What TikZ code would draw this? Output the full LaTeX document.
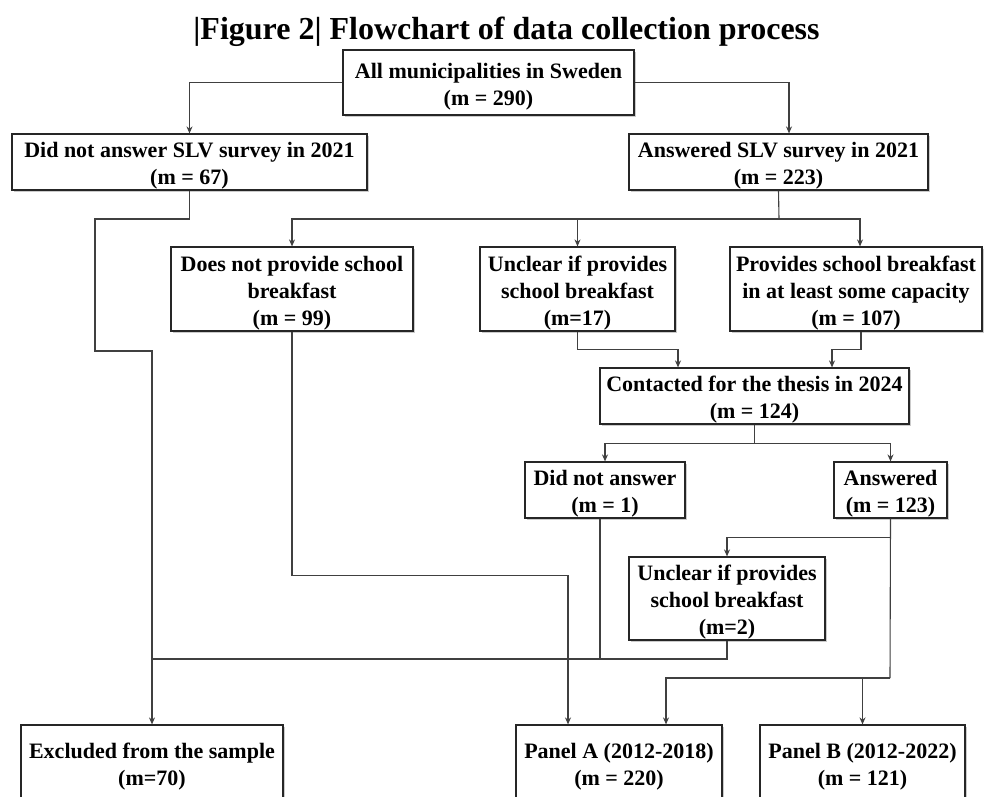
\documentclass[tikz,border=0pt]{standalone}
\usepackage{fontspec}
\setmainfont{Liberation Serif}
\usetikzlibrary{arrows.meta,shadows}
\newcommand{\tstrut}{\rule{0pt}{23pt}}
\tikzset{
  box/.style={draw=black!85, line width=1.2pt, fill=white, align=center, inner sep=0pt,
    font=\fontsize{22}{27}\selectfont\bfseries,
    drop shadow={shadow xshift=2pt, shadow yshift=-2pt, fill=black!45, opacity=0.45}},
  conn/.style={draw=black!75, line width=1.1pt},
  arr/.style={conn, -{Stealth[length=7pt,width=6pt]}}
}
\begin{document}
\begin{tikzpicture}[x=1pt,y=-1pt]
\clip (0,0) rectangle (984,796);
\fill[white] (0,0) rectangle (984,796);
\node[anchor=base, font=\fontsize{32}{38}\selectfont\bfseries] (title) at (506.5,39) {|Figure 2| Flowchart of data collection process};
\node[box, minimum width=291pt, minimum height=65pt] (b1) at (488.5,82.5) {\tstrut All municipalities in Sweden\\(m = 290)};
\node[box, minimum width=355pt, minimum height=56pt] (b2) at (189.5,162) {\tstrut Did not answer SLV survey in 2021\\(m = 67)};
\node[box, minimum width=299pt, minimum height=56pt] (b3) at (778.5,162) {\tstrut Answered SLV survey in 2021\\(m = 223)};
\node[box, minimum width=242pt, minimum height=84pt] (b4) at (292,289) {\tstrut Does not provide school\\breakfast\\(m = 99)};
\node[box, minimum width=195pt, minimum height=84pt] (b5) at (577.5,289) {\tstrut Unclear if provides\\school breakfast\\(m=17)};
\node[box, minimum width=252pt, minimum height=84pt] (b6) at (856,289) {\tstrut Provides school breakfast\\in at least some capacity\\(m = 107)};
\node[box, minimum width=309pt, minimum height=56pt] (b7) at (754.5,396) {\tstrut Contacted for the thesis in 2024\\(m = 124)};
\node[box, minimum width=160pt, minimum height=56pt] (b8) at (605,490) {\tstrut Did not answer\\(m = 1)};
\node[box, minimum width=113pt, minimum height=56pt] (b9) at (890.5,490) {\tstrut Answered\\(m = 123)};
\node[box, minimum width=196pt, minimum height=83pt] (b10) at (727,598.5) {\tstrut Unclear if provides\\school breakfast\\(m=2)};
\node[box, minimum width=262pt, minimum height=76pt] (b11) at (152,763) {\tstrut Excluded from the sample\\(m=70)};
\node[box, minimum width=206pt, minimum height=76pt] (b12) at (619,763) {\tstrut Panel A (2012-2018)\\(m = 220)};
\node[box, minimum width=205pt, minimum height=76pt] (b13) at (862.5,763) {\tstrut Panel B (2012-2022)\\(m = 121)};
% level 1
\draw[arr] (b1.west) -| (b2.north);
\draw[arr] (b1.east) -| ([xshift=10.5pt]b3.north);
% from b2 to excluded
\coordinate (w1) at (95,219);
\coordinate (w2) at (152,351);
\draw[arr] (b2.south) |- (w1) |- (w2) -- (b11.north);
% from b3 to three
\coordinate (j1) at (779,219);
\draw[conn] (b3.south) -- (j1);
\draw[arr] (j1) -| (b4.north);
\draw[arr] (j1) -| ([xshift=4pt]b6.north);
\draw[arr] (b5.north |- j1) -- (b5.north);
% to contacted
\draw[arr] (b5.south) -- ++(0,18) -| ([xshift=-76.5pt]b7.north);
\draw[arr] ([xshift=5pt]b6.south) -- ++(0,18) -| ([xshift=77.5pt]b7.north);
% contacted split
\draw[arr] (b7.south) -- ++(0,19) -| (b8.north);
\draw[arr] (b7.south) -- ++(0,19) -| (b9.north);
% answered -> unclear (m=2)
\draw[arr] (b9.south) -- ++(0,19) -| (b10.north);
% exclusion collector
\coordinate (h1) at (152,659);
\draw[conn] (b10.south) |- (h1);
\draw[conn] ([xshift=-5pt]b8.south) -- ([xshift=-5pt]b8.south |- h1);
% answered -> panels
\coordinate (j4) at (890,678);
\draw[conn] (b9.south) -- (j4);
\draw[arr] (j4) -| ([xshift=47pt]b12.north);
\draw[arr] (b13.north |- j4) -- (b13.north);
% does not provide -> panel A
\draw[arr] (b4.south) -- ++(0,244) -| ([xshift=-51pt]b12.north);
\end{tikzpicture}
\end{document}
